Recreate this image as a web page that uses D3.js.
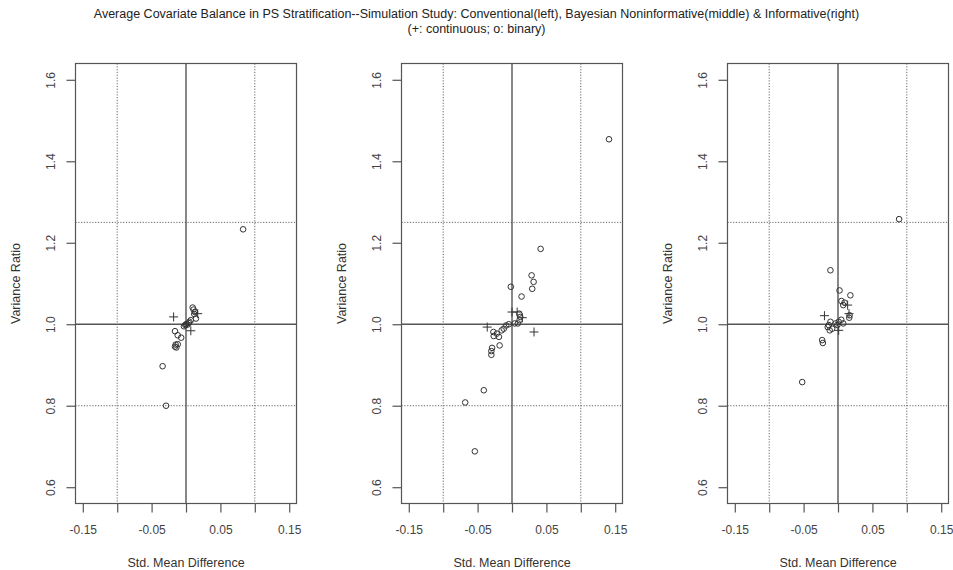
<!DOCTYPE html>
<html>
<head>
<meta charset="utf-8">
<script src="https://cdn.jsdelivr.net/npm/d3@7"></script>
<style>
  body { margin: 0; background: #fff; }
  svg { display: block; font-family: "Liberation Sans", Arial, sans-serif; }
  .title { font-size: 12.5px; fill: #222; }
  .tick-label { font-size: 12px; fill: #444; }
  .axis-title { font-size: 12.5px; fill: #333; }
  .box { fill: none; stroke: #555; stroke-width: 1.2; }
  .ref-solid { stroke: #555; stroke-width: 1.4; }
  .ref-dot { stroke: #666; stroke-width: 1; stroke-dasharray: 1.2,1.6; }
  .pt { fill: none; stroke: #333; stroke-width: 1; }
</style>
</head>
<body>
<svg id="chart" width="953" height="570"></svg>
<script>
const TITLE_LINES = [
  "Average Covariate Balance in PS Stratification--Simulation Study: Conventional(left), Bayesian Noninformative(middle) & Informative(right)",
  "(+: continuous; o: binary)",
];

const X_TICKS = [-0.15, -0.1, -0.05, 0, 0.05, 0.1, 0.15];
const X_LABELS = { "-0.15": "-0.15", "-0.05": "-0.05", "0.05": "0.05", "0.15": "0.15" };
const Y_TICKS = [0.6, 0.8, 1.0, 1.2, 1.4, 1.6];
const X_REF_DOTTED = [-0.1, 0.1];
const Y_REF_DOTTED = [0.8, 1.25];

// std. mean difference, variance ratio
const conventionalBinary = [
  [0.083, 1.233], [-0.034, 0.897], [-0.029, 0.80],
  [-0.016, 0.983], [-0.012, 0.973], [-0.007, 0.967],
  [-0.015, 0.950], [-0.014, 0.943], [-0.016, 0.945], [-0.012, 0.951],
  [-0.003, 0.995], [-0.001, 0.998], [0.0, 1.0], [0.004, 1.003], [0.002, 0.999],
  [0.0097, 1.041], [0.011, 1.036], [0.013, 1.030], [0.012, 1.025],
  [0.0145, 1.014], [0.007, 1.010], [0.005, 1.006],
];
const conventionalContinuous = [
  [-0.018, 1.018], [0.007, 0.984], [0.017, 1.026],
];

const noninformativeBinary = [
  [0.141, 1.454], [0.0416, 1.185], [0.0285, 1.120], [0.0314, 1.104], [0.0294, 1.087],
  [-0.0017, 1.092], [0.0139, 1.068],
  [0.0105, 1.026], [0.012, 1.018], [0.011, 1.010], [0.004, 1.002], [0.0085, 1.002],
  [-0.027, 0.981], [-0.022, 0.977], [-0.015, 0.985], [-0.012, 0.989],
  [-0.0085, 0.997], [-0.0047, 1.0], [-0.0266, 0.971], [-0.019, 0.969],
  [-0.018, 0.948], [-0.029, 0.942], [-0.030, 0.934], [-0.030, 0.925],
  [-0.041, 0.838], [-0.068, 0.808], [-0.054, 0.688],
];
const noninformativeContinuous = [
  [0.0075, 1.030], [0.015, 1.016], [-0.036, 0.993], [0.032, 0.981], [0.0, 1.03],
];

const informativeBinary = [
  [0.0888, 1.258], [-0.011, 1.1325], [0.0022, 1.083], [0.018, 1.071],
  [0.005, 1.057], [0.0095, 1.053], [0.0076, 1.047],
  [0.0168, 1.022], [0.0163, 1.016],
  [-0.011, 1.006], [-0.0134, 0.998], [-0.0149, 0.993], [-0.012, 0.985], [-0.0085, 0.989],
  [-0.0036, 1.002], [0.001, 1.006], [0.0047, 1.011], [0.0076, 1.002], [-0.001, 0.998],
  [-0.023, 0.961], [-0.022, 0.954], [-0.052, 0.858],
];
const informativeContinuous = [
  [0.014, 1.047], [0.016, 1.026], [-0.0197, 1.021], [0.001, 0.985],
];

const PANELS = [
  { binary: conventionalBinary, continuous: conventionalContinuous },
  { binary: noninformativeBinary, continuous: noninformativeContinuous },
  { binary: informativeBinary, continuous: informativeContinuous },
];

const svg = d3.select("#chart");

// Title
TITLE_LINES.forEach((line, i) => {
  svg.append("text").attr("class", "title")
    .attr("x", 476.5).attr("y", 18 + i * 15)
    .attr("text-anchor", "middle").text(line);
});

const boxW = 221;
const panelLefts = [75.5, 401.5, 727.5];
const boxTop = 63.5;
const boxBottom = 503.5;

const x = d3.scaleLinear().domain([-0.1606, 0.1606]).range([0, boxW]);
const y = d3.scaleLinear().domain([0.56, 1.64]).range([boxBottom - boxTop, 0]);
const h = boxBottom - boxTop;

PANELS.forEach((panel, pi) => {
  const g = svg.append("g").attr("transform", `translate(${panelLefts[pi]},${boxTop})`);

  // dotted reference lines
  X_REF_DOTTED.forEach((v) => {
    g.append("line").attr("class", "ref-dot")
      .attr("x1", x(v)).attr("x2", x(v)).attr("y1", 0).attr("y2", h);
  });
  Y_REF_DOTTED.forEach((v) => {
    g.append("line").attr("class", "ref-dot")
      .attr("x1", 0).attr("x2", boxW).attr("y1", y(v)).attr("y2", y(v));
  });
  // solid reference lines
  g.append("line").attr("class", "ref-solid")
    .attr("x1", x(0)).attr("x2", x(0)).attr("y1", 0).attr("y2", h);
  g.append("line").attr("class", "ref-solid")
    .attr("x1", 0).attr("x2", boxW).attr("y1", y(1)).attr("y2", y(1));

  // axes
  const xAxis = g.append("g").attr("transform", `translate(0,${h})`)
    .call(d3.axisBottom(x).tickValues(X_TICKS).tickSizeOuter(0).tickSize(9)
      .tickFormat((d) => X_LABELS[String(d)] || ""));
  xAxis.select(".domain").remove();
  xAxis.selectAll("line").attr("stroke", "#555").attr("stroke-width", 1.2);
  xAxis.selectAll("text").attr("class", "tick-label").attr("y", 21.5).attr("dy", "0.71em")
    .attr("font-size", null).attr("font-family", null).attr("fill", null);

  const yAxis = g.append("g")
    .call(d3.axisLeft(y).tickValues(Y_TICKS).tickSizeOuter(0).tickSize(9).tickFormat(d3.format(".1f")));
  yAxis.select(".domain").remove();
  yAxis.selectAll("line").attr("stroke", "#555").attr("stroke-width", 1.2);
  yAxis.selectAll("text").attr("class", "tick-label")
    .attr("x", null).attr("dy", null)
    .attr("font-size", null).attr("font-family", null).attr("fill", null)
    .attr("text-anchor", "middle")
    .attr("transform", "translate(-21,0) rotate(-90)");

  // box
  g.append("rect").attr("class", "box").attr("x", 0).attr("y", 0).attr("width", boxW).attr("height", h);

  // axis titles
  g.append("text").attr("class", "axis-title")
    .attr("x", boxW / 2).attr("y", 567 - boxTop).attr("text-anchor", "middle")
    .text("Std. Mean Difference");
  g.append("text").attr("class", "axis-title")
    .attr("text-anchor", "middle")
    .attr("transform", `translate(${20 - 75.5},${h / 2}) rotate(-90)`)
    .text("Variance Ratio");

  // points
  g.selectAll("circle.pt").data(panel.binary).join("circle")
    .attr("class", "pt").attr("cx", (d) => x(d[0])).attr("cy", (d) => y(d[1])).attr("r", 2.8);

  const plus = 4.5;
  g.selectAll("path.plus").data(panel.continuous).join("path")
    .attr("class", "pt plus")
    .attr("d", (d) => {
      const px = x(d[0]), py = y(d[1]);
      return `M${px - plus},${py}H${px + plus}M${px},${py - plus}V${py + plus}`;
    });
});
</script>
</body>
</html>
